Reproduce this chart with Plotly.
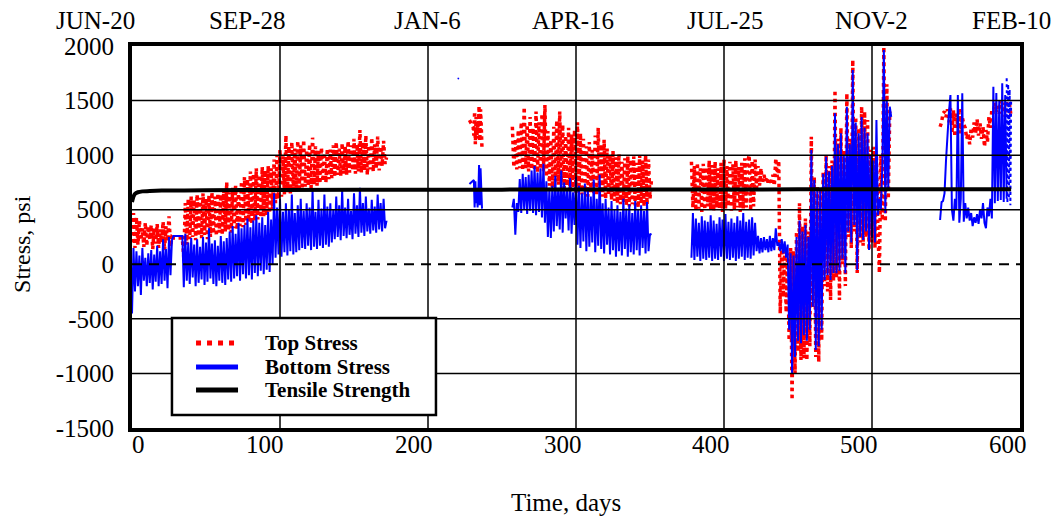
import plotly.graph_objects as go

# ---------------------------------------------------------------
# Slab stress record: top / bottom stress and tensile strength
# Values are stored per segment: (first day, day step, values)
# ---------------------------------------------------------------

# Days 0-34 (including the flat link while the gauges were offline)
top_a = [200, 470, 150, 430, 180, 400, 220, 330, 160, 380,
         170, 350, 230, 360, 140, 330, 190, 370, 150, 320,
         200, 390, 130, 350, 210, 440, 160, 250,
         240, 240, 240, 240, 240, 240, 240]
bot_a = [-450, 150, -250, 120, -200, 80, -280, 150, -150, 60,
         -200, 100, -170, 130, -230, 90, -160, 170, -200, 120,
         -180, 230, -150, 140, -220, 250, -100, 220,
         260, 260, 260, 260, 260, 260, 260]

# Days 35-172
top_b = [60, 560, 180, 600, 230, 620, 250, 590, 220, 640,
         260, 610, 240, 650, 270, 600, 230, 630, 250, 660,
         280, 620, 260, 650, 290, 640, 270, 680, 300, 750,
         310, 660, 290, 700, 330, 720, 320, 680, 350, 760,
         340, 800, 360, 780, 390, 850, 370, 830, 400, 880,
         410, 820, 430, 890, 440, 860, 450, 900, 470, 880,
         500, 960, 560, 1000, 600, 1050, 620, 990, 640, 1180,
         660, 1080, 650, 1120, 680, 1060, 670, 1130, 700, 1090,
         690, 1140, 710, 1050, 720, 1100, 700, 1160, 730, 1080,
         720, 1040, 740, 1070, 760, 1020, 750, 1060, 780, 1050,
         790, 1090, 800, 1120, 820, 1060, 810, 1110, 830, 1080,
         820, 1130, 840, 1090, 860, 1150, 830, 1100, 850, 1230,
         840, 1120, 860, 1180, 820, 1090, 870, 1160, 850, 1100,
         880, 1170, 860, 1080, 900, 1130, 920, 980]
bot_b = [-210, 280, -150, 200, -180, 240, -120, 180, -200, 230,
         -170, 160, -140, 250, -190, 200, -160, 330, -130, 190,
         -180, 220, -200, 170, -150, 260, -170, 210, -190, 240,
         -140, 300, -160, 350, -130, 280, -110, 380, -150, 330,
         -90, 360, -130, 420, -100, 340, -140, 400, -80, 450,
         -110, 380, -60, 430, -90, 360, -50, 480, -70, 410,
         0, 650, 60, 520, 90, 600, 70, 480, 110, 560,
         80, 500, 120, 640, 90, 470, 110, 540, 130, 600,
         150, 490, 140, 560, 170, 520, 130, 680, 160, 480,
         140, 590, 170, 510, 150, 640, 180, 530, 160, 560,
         200, 500, 230, 620, 250, 540, 220, 680, 260, 520,
         240, 600, 270, 490, 230, 650, 280, 540, 250, 700,
         290, 560, 260, 620, 300, 510, 280, 590, 310, 530,
         290, 640, 320, 560, 300, 600, 330, 400]

# Days 228-236.5 (half-day readings)
top_c = [1320, 1310, 1300, 1290, 1280, 1260, 1180, 1400, 1100, 1350,
         1150, 1300, 1220, 1450, 1130, 1420, 1260, 1050]
bot_c = [736, 742, 748, 755, 762, 768, 772, 520, 760, 560,
         700, 520, 640, 910, 540, 880, 600, 510]

# Isolated bottom-gauge reading, days 220-221
bot_blip = [1705, 1700]

# Days 257-351
top_d = [1260, 890, 1150, 870, 1230, 880, 1300, 860, 1440, 880,
         1280, 850, 1350, 870, 1250, 860, 1400, 840, 1300, 870,
         1380, 850, 1460, 800, 1220, 720, 1140, 700, 1260, 760,
         1320, 730, 1400, 750, 1280, 690, 1180, 720, 1250, 680,
         1190, 700, 1230, 650, 1300, 690, 1200, 640, 1150, 700,
         1080, 620, 1120, 660, 1050, 640, 1180, 630, 1250, 650,
         1100, 620, 1140, 600, 1060, 630, 1000, 590, 1040, 580,
         980, 560, 1010, 550, 940, 570, 970, 540, 990, 530,
         960, 550, 990, 540, 930, 520, 1000, 560, 950, 530,
         1000, 550, 960, 600, 780]
bot_d = [520, 600, 270, 560, 480, 780, 470, 830, 500, 800,
         460, 820, 490, 860, 470, 900, 450, 840, 480, 880,
         430, 920, 380, 760, 250, 700, 240, 720, 300, 810,
         350, 700, 320, 860, 290, 750, 420, 680, 310, 790,
         280, 660, 360, 800, 180, 720, 150, 650, 210, 740,
         120, 690, 160, 620, 200, 780, 110, 600, 170, 820,
         140, 560, 100, 600, 180, 520, 90, 580, 130, 500,
         70, 540, 120, 480, 80, 600, 140, 510, 70, 550,
         110, 470, 90, 580, 130, 500, 80, 540, 150, 490,
         100, 570, 120, 280, 270]

# Days 378-436
top_e = [940, 520, 900, 490, 930, 510, 880, 480, 920, 500,
         890, 530, 950, 500, 910, 490, 940, 520, 880, 510,
         930, 480, 960, 510, 900, 530, 940, 490, 920, 500,
         950, 520, 890, 480, 930, 510, 970, 520, 940, 1000,
         490, 950, 530, 960, 700, 900, 720, 880, 740, 820,
         760, 800, 730, 780, 750, 820, 720, 970, 800]
bot_e = [60, 470, 40, 420, 70, 380, 30, 440, 50, 400,
         40, 390, 60, 450, 30, 400, 50, 370, 40, 430,
         70, 410, 30, 460, 50, 390, 40, 420, 60, 380,
         30, 440, 50, 400, 70, 470, 40, 390, 60, 410,
         50, 430, 80, 380, 120, 260, 100, 240, 110, 250,
         130, 230, 110, 260, 120, 240, 130, 330, 170]

# Days 437-513 (large swings)
top_f = [950, -450, 140, -300, 120, -440, 100, -700, 150, -1243,
         120, -1000, 300, -800, 559, -877, 350, -860, 420, -880,
         300, -750, 1169, -400, 800, -850, 720, -895, 700, -700,
         850, -200, 1000, -250, 900, -327, 950, -150, 1597, -120,
         1150, -327, 1250, 0, 1050, -200, 1567, 250, 1150, 150,
         1872, 300, 1350, -80, 1250, 200, 1444, 170, 1400, 250,
         1322, 131, 1050, 200, 1077, 150, 1000, 300, -80, 1000,
         400, 1994, 390, 1650, 600, 1400]
bot_f = [200, 120, 230, 100, 210, 60, 180, -600, 100, -999,
         80, -850, 250, -700, 400, -724, 300, -650, 360, -700,
         250, -600, 1047, -388, 772, -785, 700, -750, 681, -600,
         830, -144, 986, -100, 850, -144, 900, -80, 1383, -83,
         1100, -60, 1200, 50, 1000, -83, 1444, 300, 1100, 200,
         1780, 360, 1300, -52, 1200, 250, 1350, 222, 1250, 300,
         1200, 131, 1000, 250, 950, 200, 1322, 450, 600, 500,
         900, 1963, 467, 1500, 700, 1444, 1350]

# Days 546-594
top_g = [1260, 1300, 1383, 1400, 1350, 1420, 1300, 1429, 1200, 1410,
         1170, 1380, 1250, 1430, 1200, 1350, 1280, 1250, 1150, 1200,
         1100, 1250, 1160, 1300, 1200, 1330, 1180, 1290, 1150, 1260,
         1077, 1230, 1120, 1350, 1250, 1420, 1380, 1480, 1400, 1450,
         1380, 1500, 1420, 1480, 1350, 1500, 1400, 1460, 1350]
bot_g = [406, 570, 580, 650, 950, 1200, 1400, 1551, 500, 400,
         600, 500, 1551, 380, 600, 1567, 390, 560, 420, 520,
         400, 470, 350, 430, 380, 460, 370, 500, 420, 560,
         380, 330, 520, 440, 600, 420, 1627, 560, 1570, 580,
         1500, 590, 1658, 570, 1550, 600]
# Final bottom readings (days 591-594, half-day)
bot_g_end = [1704, 560, 1650, 600, 1600, 540, 1500]

# Tensile strength development
tensile_days = [0, 1, 2, 4, 7, 12, 20, 50, 100, 200, 300, 400, 500, 594]
tensile_vals = [570, 620, 645, 660, 668, 672, 675, 678, 681, 683, 685, 686, 687, 688]

# Axis ticks and calendar labels
x_ticks = [0, 100, 200, 300, 400, 500, 600]
y_ticks = [-1500, -1000, -500, 0, 500, 1000, 1500, 2000]
y_tick_text = ["-1500", "-1000", "-500", "0", "500", "1000", "1500", "2000"]
date_labels = ["JUN-20", "SEP-28", "JAN-6", "APR-16", "JUL-25", "NOV-2", "FEB-10"]


def build(segments):
    xs, ys = [], []
    for start, step, vals in segments:
        if xs:
            xs.append(None)
            ys.append(None)
        xs.extend(start + step * i for i in range(len(vals)))
        ys.extend(vals)
    return xs, ys


top_x, top_y = build([(0, 1, top_a + top_b), (228, 0.5, top_c), (257, 1, top_d),
                      (378, 1, top_e + top_f), (546, 1, top_g)])
bot_x, bot_y = build([(0, 1, bot_a + bot_b), (228, 0.5, bot_c), (257, 1, bot_d),
                      (378, 1, bot_e + bot_f), (546, 1, bot_g)])
blip_x, blip_y = build([(220, 1, bot_blip)])
end_x, end_y = build([(591, 0.5, bot_g_end)])

SERIF = "Liberation Serif, Times New Roman, serif"
RED = "#ff0000"
BLUE = "#0000ff"

fig = go.Figure()
fig.add_trace(go.Scatter(x=top_x, y=top_y, mode="lines", connectgaps=False,
                         line=dict(color=RED, width=3.5, dash="dot"),
                         showlegend=False, hoverinfo="skip"))
fig.add_trace(go.Scatter(x=bot_x, y=bot_y, mode="lines", connectgaps=False,
                         line=dict(color=BLUE, width=2),
                         showlegend=False, hoverinfo="skip"))
fig.add_trace(go.Scatter(x=blip_x, y=blip_y, mode="lines",
                         line=dict(color=BLUE, width=1.5),
                         showlegend=False, hoverinfo="skip"))
fig.add_trace(go.Scatter(x=end_x, y=end_y, mode="lines",
                         line=dict(color=BLUE, width=2, dash="dot"),
                         showlegend=False, hoverinfo="skip"))
fig.add_trace(go.Scatter(x=tensile_days, y=tensile_vals, mode="lines",
                         line=dict(color="black", width=4, shape="spline", smoothing=0.4),
                         showlegend=False, hoverinfo="skip"))

shapes = []
# grid drawn on top of the data
for v in x_ticks[1:-1]:
    shapes.append(dict(type="line", xref="x", yref="paper", x0=v, x1=v, y0=0, y1=1,
                       line=dict(color="black", width=1.5), layer="above"))
for v in y_ticks[1:-1]:
    if v == 0:
        shapes.append(dict(type="line", xref="paper", yref="y", x0=0, x1=1, y0=v, y1=v,
                           line=dict(color="black", width=2, dash="10px,7px"), layer="above"))
    else:
        shapes.append(dict(type="line", xref="paper", yref="y", x0=0, x1=1, y0=v, y1=v,
                           line=dict(color="black", width=1.5), layer="above"))

# legend box
shapes.append(dict(type="rect", xref="paper", yref="paper", x0=0.045, x1=0.3423,
                   y0=0.034, y1=0.288, fillcolor="white",
                   line=dict(color="black", width=2.5), layer="above"))
legend_rows = [("Top Stress", RED, "5px,6px", 0.2225),
               ("Bottom Stress", BLUE, "solid", 0.1597),
               ("Tensile Strength", "black", "solid", 0.0995)]
annotations = []
for name, col, dash, yy in legend_rows:
    shapes.append(dict(type="line", xref="paper", yref="paper", x0=0.0721, x1=0.1194,
                       y0=yy, y1=yy, line=dict(color=col, width=5, dash=dash), layer="above"))
    annotations.append(dict(text="<b>%s</b>" % name, xref="paper", yref="paper",
                            x=0.1475, y=yy, xanchor="left", yanchor="middle",
                            showarrow=False, font=dict(family=SERIF, size=21, color="black")))

# bottom tick labels and calendar dates on top
tick_shift = [6, -15, -14, -13, -13, -13, -12]
date_shift = [-37, -33, -1, -3, 1, -1, -9]
for v, s in zip(x_ticks, tick_shift):
    annotations.append(dict(text=str(v), xref="x", yref="paper", x=v, y=0,
                            xanchor="center", yanchor="top", xshift=s, yshift=-1,
                            showarrow=False, font=dict(family=SERIF, size=25, color="black")))
for v, lab, s in zip(x_ticks, date_labels, date_shift):
    annotations.append(dict(text=lab, xref="x", yref="paper", x=v, y=1.068,
                            xanchor="center", yanchor="middle", xshift=s,
                            showarrow=False, font=dict(family=SERIF, size=25, color="black")))

annotations.append(dict(text="Stress, psi", xref="paper", yref="paper", x=-0.1239, y=0.4817,
                        textangle=-90, xanchor="center", yanchor="middle", showarrow=False,
                        font=dict(family=SERIF, size=24, color="black")))
annotations.append(dict(text="Time, days", xref="paper", yref="paper", x=0.4887, y=-0.196,
                        xanchor="center", yanchor="middle", showarrow=False,
                        font=dict(family=SERIF, size=25, color="black")))

fig.update_layout(
    width=1052, height=521,
    margin=dict(l=132, r=32, t=46, b=93),
    paper_bgcolor="white", plot_bgcolor="white",
    showlegend=False,
    shapes=shapes, annotations=annotations,
    xaxis=dict(range=[0, 600], showgrid=False, zeroline=False, showticklabels=False,
               ticks="", showline=True, linecolor="black", linewidth=4, mirror=True),
    yaxis=dict(range=[-1500, 2000], tickvals=y_ticks, ticktext=y_tick_text,
               showgrid=False, zeroline=False,
               ticks="", ticklabelstandoff=9, showline=True, linecolor="black",
               linewidth=4, mirror=True,
               tickfont=dict(family=SERIF, size=25, color="black")),
)

fig.write_html("out.html")
